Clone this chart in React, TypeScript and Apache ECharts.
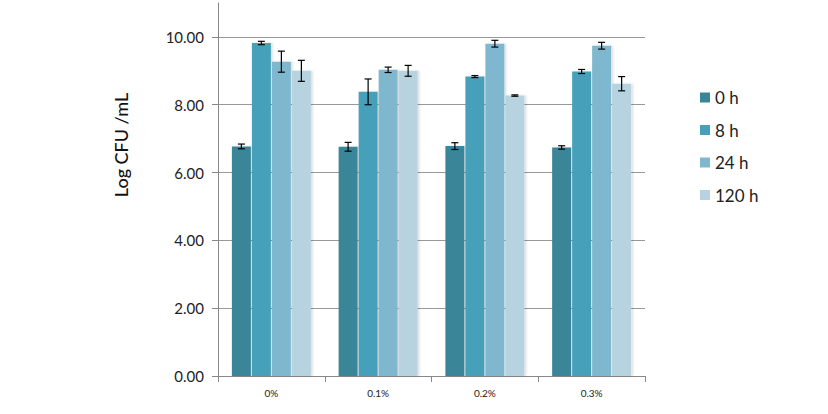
import React, { useEffect, useRef } from "react";
import * as echarts from "echarts";

const categories = ["0%", "0.1%", "0.2%", "0.3%"];
const seriesNames = ["0 h", "8 h", "24 h", "120 h"];
const values = [
  [6.77, 6.76, 6.78, 6.74],
  [9.82, 8.38, 8.83, 8.98],
  [9.27, 9.03, 9.80, 9.74],
  [9.00, 9.00, 8.27, 8.62],
];
const errors = [
  [0.07, 0.13, 0.1, 0.05],
  [0.05, 0.38, 0.03, 0.06],
  [0.31, 0.08, 0.1, 0.1],
  [0.31, 0.16, 0.02, 0.21],
];
const yTicks = [0, 2, 4, 6, 8, 10];
const colors = ["#3b8599", "#46a0ba", "#7fb8ce", "#b6d3df"];

const BAR_W = 19;
const GAP_PX = 1;

export default function App() {
  const ref = useRef<HTMLDivElement>(null);
  useEffect(() => {
    const chart = echarts.init(ref.current!, null, { renderer: "svg" });
    const font = "Lato, 'Open Sans', sans-serif";
    const barSeries: any[] = seriesNames.map((name, i) => ({
      type: "bar",
      name,
      data: values[i],
      barWidth: BAR_W,
      barGap: (GAP_PX / BAR_W) * 100 + "%",
      itemStyle: {
        color: colors[i],
        shadowColor: "rgba(0,0,0,0.12)",
        shadowBlur: 2,
        shadowOffsetX: 2,
      },
      z: 2,
    }));
    const errSeries: any[] = seriesNames.map((name, i) => ({
      type: "custom",
      name: name + "-err",
      data: values[i].map((v, j) => [j, v - errors[i][j], v + errors[i][j]]),
      z: 5,
      renderItem: (params: any, api: any) => {
        const x = api.value(0);
        const lo = api.coord([x, api.value(1)]);
        const hi = api.coord([x, api.value(2)]);
        const off = (i - 1.5) * (BAR_W + GAP_PX);
        const cx = lo[0] + off;
        const cap = 3.5;
        const st = { stroke: "#000", lineWidth: 1.2 };
        return {
          type: "group",
          children: [
            { type: "line", shape: { x1: cx, y1: lo[1], x2: cx, y2: hi[1] }, style: st },
            { type: "line", shape: { x1: cx - cap, y1: lo[1], x2: cx + cap, y2: lo[1] }, style: st },
            { type: "line", shape: { x1: cx - cap, y1: hi[1], x2: cx + cap, y2: hi[1] }, style: st },
          ],
        };
      },
    }));
    chart.setOption({
      animation: false,
      grid: { left: 218, right: 183, top: 3, bottom: 38 },
      legend: {
        orient: "vertical",
        left: 695,
        top: 84,
        data: seriesNames,
        itemWidth: 10,
        itemHeight: 10,
        itemGap: 15.5,
        icon: "rect",
        textStyle: { fontFamily: font, fontSize: 17, color: "#222" },
      },
      xAxis: {
        type: "category",
        data: categories,
        axisLine: { lineStyle: { color: "#888" } },
        axisTick: { show: true, length: 6, lineStyle: { color: "#888" } },
        axisLabel: { fontFamily: font, fontSize: 10, color: "#222", margin: 12 },
      },
      yAxis: {
        type: "value",
        min: 0,
        max: 11,
        interval: 2,
        axisLine: { show: true, lineStyle: { color: "#888" } },
        axisTick: { show: true, length: 6, customValues: yTicks, lineStyle: { color: "#888" } },
        splitLine: { show: true, lineStyle: { color: "#999" } },
        axisLabel: {
          customValues: yTicks,
          fontFamily: font,
          fontSize: 15,
          color: "#222",
          margin: 14,
          formatter: (v: number) => v.toFixed(2),
        },
      },
      graphic: [
        {
          type: "text",
          x: 121,
          y: 145,
          rotation: Math.PI / 2,
          style: {
            text: "Log CFU /mL",
            fontFamily: font,
            fontSize: 18,
            fontWeight: 500,
            fill: "#111",
            align: "center",
            verticalAlign: "middle",
          },
        },
      ],
      series: [...barSeries, ...errSeries],
    });
    return () => chart.dispose();
  }, []);
  return <div ref={ref} style={{ width: 828, height: 414, position: "absolute", left: 0, top: 0 }} />;
}
